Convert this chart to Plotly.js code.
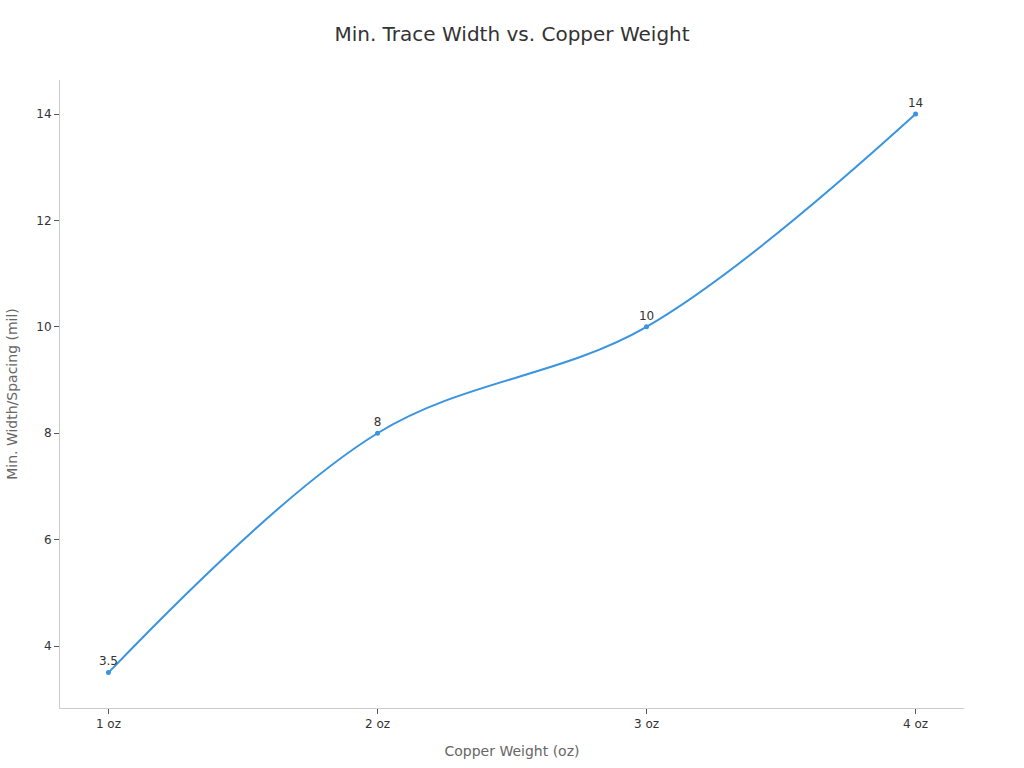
<!DOCTYPE html>
<html>
<head>
<meta charset="utf-8">
<script src="https://cdn.plot.ly/plotly-3.0.1.min.js"></script>
<style>
  html, body { margin: 0; padding: 0; background: #fff; }
  #chart { width: 1024px; height: 768px; }
</style>
</head>
<body>
<div id="chart"></div>
<script>
const weights = ["1 oz", "2 oz", "3 oz", "4 oz"];
const minWidth = [3.5, 8, 10, 14];
const yTicks = [4, 6, 8, 10, 12, 14];

const trace = {
    x: weights,
    y: minWidth,
    type: "scatter",
    mode: "lines+markers+text",
    line: { color: "#3a94e0", width: 2, shape: "spline", smoothing: 1 },
    marker: { color: "#3a94e0", size: 5 },
    text: minWidth.map(String),
    textposition: "top center",
    textfont: { family: "DejaVu Sans", size: 12, color: "#333" },
    cliponaxis: false,
    hoverinfo: "x+y"
};

const layout = {
    width: 1024, height: 768,
    margin: { t: 80, r: 60, l: 60, b: 60 },
    paper_bgcolor: "#fff",
    plot_bgcolor: "#fff",
    font: { family: "DejaVu Sans", color: "#333" },
    title: {
        text: "Min. Trace Width vs. Copper Weight",
        font: { family: "DejaVu Sans", size: 20, color: "#333" },
        x: 0.5, xanchor: "center", y: 0.965
    },
    xaxis: {
        title: { text: "Copper Weight (oz)", font: { size: 14, color: "#666" }, standoff: 15 },
        range: [-0.18, 3.18],
        showline: true, linecolor: "#ccc", linewidth: 1,
        showgrid: false, zeroline: false,
        ticks: "outside", ticklen: 5, tickcolor: "#555",
        tickfont: { size: 12, color: "#333" }
    },
    yaxis: {
        title: { text: "Min. Width/Spacing (mil)", font: { size: 14, color: "#666" }, standoff: 15 },
        range: [2.835, 14.64],
        tickvals: yTicks,
        showline: true, linecolor: "#ccc", linewidth: 1,
        showgrid: false, zeroline: false,
        ticks: "outside", ticklen: 5, tickcolor: "#555",
        tickfont: { size: 12, color: "#333" }
    },
    showlegend: false
};

Plotly.newPlot("chart", [trace], layout, { displayModeBar: false });
</script>
</body>
</html>
